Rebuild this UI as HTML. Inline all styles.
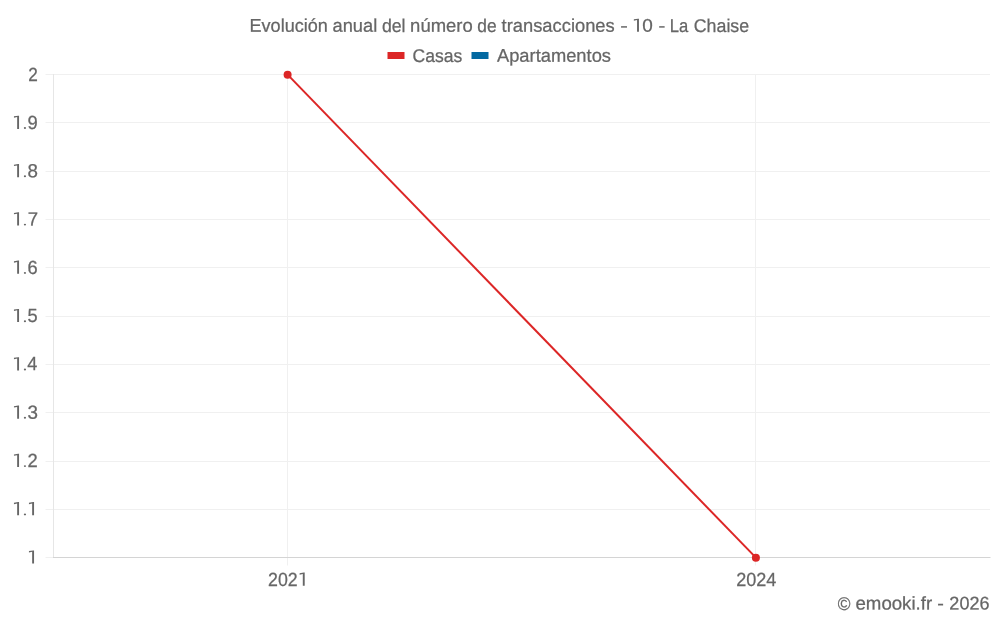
<!DOCTYPE html>
<html><head><meta charset="utf-8"><title>chart</title>
<style>
html,body{margin:0;padding:0;background:#fff;}
body{width:1000px;height:625px;overflow:hidden;font-family:"Liberation Sans",sans-serif;}
.t{font-family:"Liberation Sans",sans-serif;text-rendering:geometricPrecision;fill:#666;stroke:#666;stroke-width:0.25px;}
</style></head><body>
<svg width="1000" height="625" viewBox="0 0 1000 625" style="display:block;will-change:transform">
<rect width="1000" height="625" fill="#fff"/>
<g>
<line x1="45.5" x2="990" y1="74.5" y2="74.5" stroke="#f0f0f0" stroke-width="1"/>
<line x1="45.5" x2="990" y1="122.5" y2="122.5" stroke="#f0f0f0" stroke-width="1"/>
<line x1="45.5" x2="990" y1="171.5" y2="171.5" stroke="#f0f0f0" stroke-width="1"/>
<line x1="45.5" x2="990" y1="219.5" y2="219.5" stroke="#f0f0f0" stroke-width="1"/>
<line x1="45.5" x2="990" y1="267.5" y2="267.5" stroke="#f0f0f0" stroke-width="1"/>
<line x1="45.5" x2="990" y1="316.5" y2="316.5" stroke="#f0f0f0" stroke-width="1"/>
<line x1="45.5" x2="990" y1="364.5" y2="364.5" stroke="#f0f0f0" stroke-width="1"/>
<line x1="45.5" x2="990" y1="412.5" y2="412.5" stroke="#f0f0f0" stroke-width="1"/>
<line x1="45.5" x2="990" y1="461.5" y2="461.5" stroke="#f0f0f0" stroke-width="1"/>
<line x1="45.5" x2="990" y1="509.5" y2="509.5" stroke="#f0f0f0" stroke-width="1"/>
<line x1="45.5" x2="990" y1="557.5" y2="557.5" stroke="#f0f0f0" stroke-width="1"/>
<line x1="287.5" x2="287.5" y1="74" y2="565.5" stroke="#f0f0f0" stroke-width="1"/>
<line x1="755.5" x2="755.5" y1="74" y2="565.5" stroke="#f0f0f0" stroke-width="1"/>
<line x1="53.5" x2="53.5" y1="74" y2="558" stroke="#e6e6e6" stroke-width="1"/>
<line x1="53.0" x2="990.5" y1="557.5" y2="557.5" stroke="#d4d4d4" stroke-width="1"/>
</g>
<line x1="287.6" y1="74.65" x2="755.9" y2="557.65" stroke="#dc2626" stroke-width="2"/>
<circle cx="287.6" cy="74.65" r="4" fill="#dc2626"/>
<circle cx="755.9" cy="557.65" r="4" fill="#dc2626"/>
<rect x="387.5" y="52" width="17" height="7" fill="#dc2626"/>
<rect x="471.5" y="52" width="17" height="7" fill="#0369a1"/>
<g class="t">
<text transform="matrix(1 .0005 0 1 0 -0.144)" font-size="18.4" x="249.51" y="31.8" textLength="78.33" lengthAdjust="spacingAndGlyphs">Evolución</text>
<text transform="matrix(1 .0005 0 1 0 -0.177)" font-size="18.4" x="332.52" y="31.8" textLength="44.69" lengthAdjust="spacingAndGlyphs">anual</text>
<text transform="matrix(1 .0005 0 1 0 -0.197)" font-size="18.4" x="381.92" y="31.8" textLength="23.66" lengthAdjust="spacingAndGlyphs">del</text>
<text transform="matrix(1 .0005 0 1 0 -0.221)" font-size="18.4" x="410.12" y="31.8" textLength="62.62" lengthAdjust="spacingAndGlyphs">número</text>
<text transform="matrix(1 .0005 0 1 0 -0.243)" font-size="18.4" x="477.36" y="31.8" textLength="19.31" lengthAdjust="spacingAndGlyphs">de</text>
<text transform="matrix(1 .0005 0 1 0 -0.279)" font-size="18.4" x="501.61" y="31.8" textLength="113.14" lengthAdjust="spacingAndGlyphs">transacciones</text>
<text transform="matrix(1 .0005 0 1 0 -0.312)" font-size="18.4" x="620.22" y="31.8" textLength="7.56" lengthAdjust="spacingAndGlyphs">-</text>
<text transform="matrix(1 .0005 0 1 0 -0.324)" font-size="18.4" x="642.32" y="31.8" textLength="10.54" lengthAdjust="spacingAndGlyphs">0</text>
<text transform="matrix(1 .0005 0 1 0 -0.331)" font-size="18.4" x="658.44" y="31.8" textLength="6.76" lengthAdjust="spacingAndGlyphs">-</text>
<text transform="matrix(1 .0005 0 1 0 -0.340)" font-size="18.4" x="669.73" y="31.8" textLength="18.48" lengthAdjust="spacingAndGlyphs">La</text>
<text transform="matrix(1 .0005 0 1 0 -0.361)" font-size="18.4" x="693.74" y="31.8" textLength="55.44" lengthAdjust="spacingAndGlyphs">Chaise</text>
<text transform="matrix(1 .0005 0 1 0 -0.219)" font-size="18.4" x="412.57" y="61.7" textLength="49.78" lengthAdjust="spacingAndGlyphs">Casas</text>
<text transform="matrix(1 .0005 0 1 0 -0.277)" font-size="18.4" x="496.94" y="61.7" textLength="114.05" lengthAdjust="spacingAndGlyphs">Apartamentos</text>
<text transform="matrix(1 .0005 0 1 0 -0.422)" font-size="18.4" x="837.71" y="609.6" textLength="12.70" lengthAdjust="spacingAndGlyphs">©</text>
<text transform="matrix(1 .0005 0 1 0 -0.447)" font-size="18.4" x="855.50" y="609.6" textLength="76.64" lengthAdjust="spacingAndGlyphs">emooki.fr</text>
<text transform="matrix(1 .0005 0 1 0 -0.470)" font-size="18.4" x="937.20" y="609.6" textLength="6.59" lengthAdjust="spacingAndGlyphs">-</text>
<text transform="matrix(1 .0005 0 1 0 -0.485)" font-size="18.4" x="949.37" y="609.6" textLength="40.12" lengthAdjust="spacingAndGlyphs">2026</text>
<text transform="matrix(1 .0005 0 1 0 -0.141)" font-size="19" x="268.06" y="585.8" textLength="29.65" lengthAdjust="spacingAndGlyphs">202</text>
<text transform="matrix(1 .0005 0 1 0 -0.378)" font-size="19" x="736.16" y="585.8" textLength="40.23" lengthAdjust="spacingAndGlyphs">2024</text>
<text transform="matrix(1 .0005 0 1 0 -0.016)" font-size="19" x="28.29" y="80.6" textLength="9.57" lengthAdjust="spacingAndGlyphs">2</text>
<text transform="matrix(1 .0005 0 1 0 -0.015)" font-size="19" x="27.46" y="128.9" textLength="10.25" lengthAdjust="spacingAndGlyphs">9</text>
<text transform="matrix(1 .0005 0 1 0 -0.015)" font-size="19" x="27.41" y="177.2" textLength="10.45" lengthAdjust="spacingAndGlyphs">8</text>
<text transform="matrix(1 .0005 0 1 0 -0.015)" font-size="19" x="27.69" y="225.5" textLength="10.34" lengthAdjust="spacingAndGlyphs">7</text>
<text transform="matrix(1 .0005 0 1 0 -0.015)" font-size="19" x="27.50" y="273.8" textLength="10.17" lengthAdjust="spacingAndGlyphs">6</text>
<text transform="matrix(1 .0005 0 1 0 -0.015)" font-size="19" x="27.46" y="322.1" textLength="10.13" lengthAdjust="spacingAndGlyphs">5</text>
<text transform="matrix(1 .0005 0 1 0 -0.015)" font-size="19" x="27.25" y="370.4" textLength="10.07" lengthAdjust="spacingAndGlyphs">4</text>
<text transform="matrix(1 .0005 0 1 0 -0.015)" font-size="19" x="27.48" y="418.7" textLength="10.48" lengthAdjust="spacingAndGlyphs">3</text>
<text transform="matrix(1 .0005 0 1 0 -0.015)" font-size="19" x="27.45" y="467.0" textLength="10.25" lengthAdjust="spacingAndGlyphs">2</text>
</g>
<path transform="translate(638.95,31.85)" d="M0 0H-1.9V-11.8L-5.1 -11.15V-12.55L-0.9 -13.2H0Z" fill="#666"/>
<path transform="translate(304.70,585.8)" d="M0 0H-1.9V-11.8L-5.1 -11.15V-12.55L-0.9 -13.2H0Z" fill="#666"/>
<path transform="translate(19.05,128.9)" d="M0 0H-1.9V-11.8L-5.1 -11.15V-12.55L-0.9 -13.2H0Z" fill="#666"/>
<path transform="translate(19.05,177.2)" d="M0 0H-1.9V-11.8L-5.1 -11.15V-12.55L-0.9 -13.2H0Z" fill="#666"/>
<path transform="translate(19.05,225.5)" d="M0 0H-1.9V-11.8L-5.1 -11.15V-12.55L-0.9 -13.2H0Z" fill="#666"/>
<path transform="translate(19.05,273.8)" d="M0 0H-1.9V-11.8L-5.1 -11.15V-12.55L-0.9 -13.2H0Z" fill="#666"/>
<path transform="translate(19.05,322.1)" d="M0 0H-1.9V-11.8L-5.1 -11.15V-12.55L-0.9 -13.2H0Z" fill="#666"/>
<path transform="translate(19.05,370.4)" d="M0 0H-1.9V-11.8L-5.1 -11.15V-12.55L-0.9 -13.2H0Z" fill="#666"/>
<path transform="translate(19.05,418.7)" d="M0 0H-1.9V-11.8L-5.1 -11.15V-12.55L-0.9 -13.2H0Z" fill="#666"/>
<path transform="translate(19.05,467.0)" d="M0 0H-1.9V-11.8L-5.1 -11.15V-12.55L-0.9 -13.2H0Z" fill="#666"/>
<path transform="translate(19.05,515.3)" d="M0 0H-1.9V-11.8L-5.1 -11.15V-12.55L-0.9 -13.2H0Z" fill="#666"/>
<path transform="translate(34.05,515.3)" d="M0 0H-1.9V-11.8L-5.1 -11.15V-12.55L-0.9 -13.2H0Z" fill="#666"/>
<path transform="translate(34.05,563.6)" d="M0 0H-1.9V-11.8L-5.1 -11.15V-12.55L-0.9 -13.2H0Z" fill="#666"/>
<ellipse cx="24.95" cy="128.00" rx="1.1" ry="0.95" fill="#666"/>
<ellipse cx="24.95" cy="176.30" rx="1.1" ry="0.95" fill="#666"/>
<ellipse cx="24.95" cy="224.60" rx="1.1" ry="0.95" fill="#666"/>
<ellipse cx="24.95" cy="272.90" rx="1.1" ry="0.95" fill="#666"/>
<ellipse cx="24.95" cy="321.20" rx="1.1" ry="0.95" fill="#666"/>
<ellipse cx="24.95" cy="369.50" rx="1.1" ry="0.95" fill="#666"/>
<ellipse cx="24.95" cy="417.80" rx="1.1" ry="0.95" fill="#666"/>
<ellipse cx="24.95" cy="466.10" rx="1.1" ry="0.95" fill="#666"/>
<ellipse cx="24.95" cy="514.40" rx="1.1" ry="0.95" fill="#666"/>
</svg>
</body></html>
